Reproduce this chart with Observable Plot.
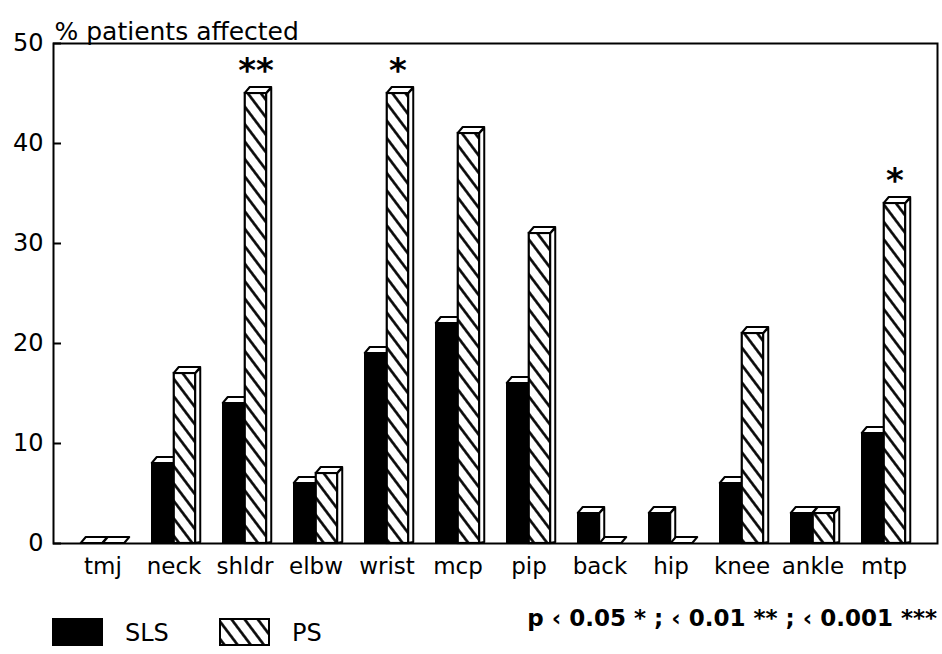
<!DOCTYPE html>
<html>
<head>
<meta charset="utf-8">
<script src="https://cdn.jsdelivr.net/npm/d3@7"></script>
<script src="https://cdn.jsdelivr.net/npm/@observablehq/plot@0.6"></script>
<style>
  html, body { margin: 0; padding: 0; background: #fff; }
  #chart { width: 942px; }
  #legend { display: block; }
</style>
</head>
<body>
<div id="chart"></div>
<script>
// Joints examined and the share of patients with involvement in each group
const joints = ["tmj", "neck", "shldr", "elbw", "wrist", "mcp", "pip", "back", "hip", "knee", "ankle", "mtp"];
const slsValues = [0, 8, 14, 6, 19, 22, 16, 3, 3, 6, 3, 11];
const psValues = [0, 17, 45, 7, 45, 41, 31, 0, 0, 21, 3, 34];
const significance = ["", "", "**", "", "*", "", "", "", "", "", "", "*"];
const yTicks = [0, 10, 20, 30, 40, 50];
const seriesNames = ["SLS", "PS"];
const yTitle = "% patients affected";
const pNote = "p ‹ 0.05 * ; ‹ 0.01 ** ; ‹ 0.001 ***";

const rows = joints.map((joint, i) => ({
  joint,
  sls: slsValues[i],
  ps: psValues[i],
  sig: significance[i]
}));

const FONT = "DejaVu Sans";
const DEPTH = 5; // oblique offset of the pseudo-3D top and side faces
const HATCH = 10.5; // spacing of the diagonal hatch lines

// Diagonal hatch pattern, used by the PS bars and their legend swatch
function addHatch(defs, id) {
  const p = defs.append("pattern")
    .attr("id", id)
    .attr("patternUnits", "userSpaceOnUse")
    .attr("width", HATCH).attr("height", HATCH)
    .attr("patternTransform", "rotate(-37)");
  p.append("rect").attr("width", HATCH).attr("height", HATCH).attr("fill", "white");
  p.append("line").attr("x1", HATCH / 2).attr("x2", HATCH / 2).attr("y1", -1).attr("y2", HATCH + 1)
    .attr("stroke", "black").attr("stroke-width", 2.6);
}

const hatchDefs = () => {
  const defs = d3.create("svg:defs");
  addHatch(defs, "ps-hatch");
  return defs.node();
};

const chart = Plot.plot({
  width: 942,
  height: 600,
  marginTop: 43,
  marginLeft: 53,
  marginRight: 5,
  marginBottom: 57,
  x: {domain: joints, range: [63.25, 921.75], padding: 0, axis: null},
  y: {domain: [0, 50], axis: null},
  style: {fontFamily: FONT, fontSize: "23px", color: "black", background: "white"},
  marks: [
    hatchDefs,
    Plot.text([yTitle], {text: d => d, frameAnchor: "top-left", textAnchor: "start", dx: 1, dy: -21, fontSize: 25}),
    Plot.tickY(yTicks, {y: d => d, insetRight: 876, stroke: "black", strokeWidth: 2}),
    Plot.text(yTicks, {y: d => d, text: d => String(d), frameAnchor: "left", textAnchor: "end", dx: -10, fontSize: 24}),
    Plot.text(joints, {x: d => d, text: d => d, frameAnchor: "bottom", dy: 30, fontSize: 23}),
    Plot.barY(rows, {x: "joint", y: "sls", fill: "black", stroke: "black", strokeWidth: 1.5,
      insetLeft: 13.75, insetRight: 35.75}),
    Plot.barY(rows, {x: "joint", y: "ps", fill: "url(#ps-hatch)", stroke: "black", strokeWidth: 2.2,
      insetLeft: 35.75, insetRight: 13.75}),
    Plot.text(rows.filter(d => d.sig), {x: "joint", y: "ps", text: "sig", dx: 11, dy: -22,
      fontSize: 34, fontWeight: "bold"}),
    Plot.frame({stroke: "black", strokeWidth: 2})
  ]
});

// Give each bar a white top face and side face drawn from its rendered rectangle
d3.select(chart).selectAll('g[aria-label="bar"]').each(function () {
  const group = this;
  const faces = d3.create("svg:g")
    .attr("fill", "white").attr("stroke", "black")
    .attr("stroke-width", 2).attr("stroke-linejoin", "round");
  d3.select(group).selectAll("rect").each(function () {
    const r = d3.select(this);
    const x = +r.attr("x"), y = +r.attr("y");
    const w = +r.attr("width"), h = +(r.attr("height") || 0);
    const y0 = y + h;
    if (h > 0) {
      faces.append("polygon").attr("points",
        [[x + w, y], [x + w + DEPTH, y - DEPTH], [x + w + DEPTH, y0 - 1], [x + w, y0]].join(" "));
    }
    faces.append("polygon").attr("points",
      [[x, y], [x + DEPTH, y - DEPTH - 1], [x + w + DEPTH, y - DEPTH - 1], [x + w, y]].join(" "));
  });
  group.parentNode.insertBefore(faces.node(), group.nextSibling);
});

document.getElementById("chart").appendChild(chart);

// Legend row under the plot
const legend = d3.create("svg")
  .attr("id", "legend")
  .attr("width", 942).attr("height", 54)
  .attr("font-family", FONT);
addHatch(legend.append("defs"), "legend-hatch");

const swatches = [
  {name: seriesNames[0], fill: "black", x: 53},
  {name: seriesNames[1], fill: "url(#legend-hatch)", x: 220}
];
swatches.forEach(s => {
  legend.append("rect")
    .attr("x", s.x).attr("y", 19).attr("width", 49).attr("height", 26)
    .attr("fill", s.fill).attr("stroke", "black").attr("stroke-width", 2);
  legend.append("text")
    .attr("x", s.x + 72).attr("y", 34)
    .attr("dominant-baseline", "middle")
    .attr("font-size", 24)
    .text(s.name);
});
legend.append("text")
  .attr("x", 937).attr("y", 19)
  .attr("text-anchor", "end")
  .attr("dominant-baseline", "middle")
  .attr("font-size", 23).attr("font-weight", "bold")
  .text(pNote);

document.getElementById("chart").appendChild(legend.node());
</script>
</body>
</html>
